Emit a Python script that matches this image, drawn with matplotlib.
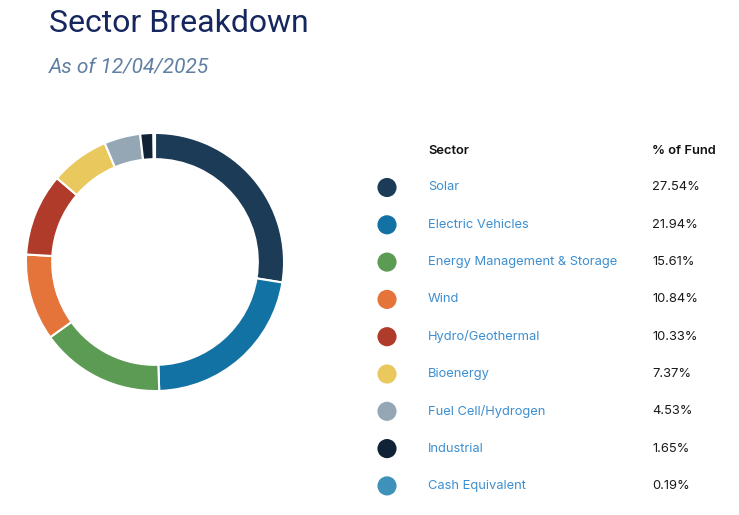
import matplotlib.pyplot as plt
import numpy as np

sectors = ['Solar', 'Electric Vehicles', 'Energy Management & Storage', 'Wind',
           'Hydro/Geothermal', 'Bioenergy', 'Fuel Cell/Hydrogen', 'Industrial',
           'Cash Equivalent']
weights = [27.54, 21.94, 15.61, 10.84, 10.33, 7.37, 4.53, 1.65, 0.19]
colors = ['#1c3b57', '#1172a3', '#5c9b53', '#e4743a', '#b03b2a', '#e9c95e',
          '#95a7b4', '#0f2236', '#3e91b9']

title = 'Sector Breakdown'
subtitle = 'As of 12/04/2025'

W, H = 739, 515
fig = plt.figure(figsize=(W / 100, H / 100), dpi=100)
fig.patch.set_facecolor('white')

# donut chart, centre about (155, 262) px
cx, cy, r = 155, 262, 131
ax = fig.add_axes([(cx - r) / W, (H - cy - r) / H, 2 * r / W, 2 * r / H])
ax.pie(weights, colors=colors, startangle=90, counterclock=False,
       radius=0.985,
       wedgeprops=dict(width=0.2, edgecolor='white', linewidth=1.5))
ax.set_aspect('equal')
ax.set_xlim(-1, 1)
ax.set_ylim(-1, 1)
ax.axis('off')

# titles
fig.text(49 / W, 1 - 24 / H, title, fontsize=23, color='#15275e',
         family='Roboto', va='center', ha='left')
fig.text(49 / W, 1 - 68 / H, subtitle, fontsize=15, color='#5f7fa3',
         family='Roboto', style='italic', va='center', ha='left')

# table / legend in pixel coordinates
tab = fig.add_axes([0, 0, 1, 1])
tab.set_xlim(0, W)
tab.set_ylim(H, 0)
tab.axis('off')

row_y = 187.5
step = 37.3
tab.text(428, 151, 'Sector', fontsize=9.3, fontweight='semibold', family='Inter',
         color='#111111', va='center')
tab.text(652, 151, '% of Fund', fontsize=9.3, fontweight='semibold', family='Inter',
         color='#111111', va='center')
for i, (name, w, c) in enumerate(zip(sectors, weights, colors)):
    y = row_y + i * step
    tab.scatter([387], [y], s=190, color=c, edgecolors='none')
    tab.text(428, y, name, fontsize=9.3, family='Inter', color='#3d8fd1',
             va='center')
    tab.text(652, y, f'{w:.2f}%', fontsize=9.3, family='Inter', color='#1a1a1a',
             va='center')

fig.savefig('out.png', dpi=100, facecolor='white')
